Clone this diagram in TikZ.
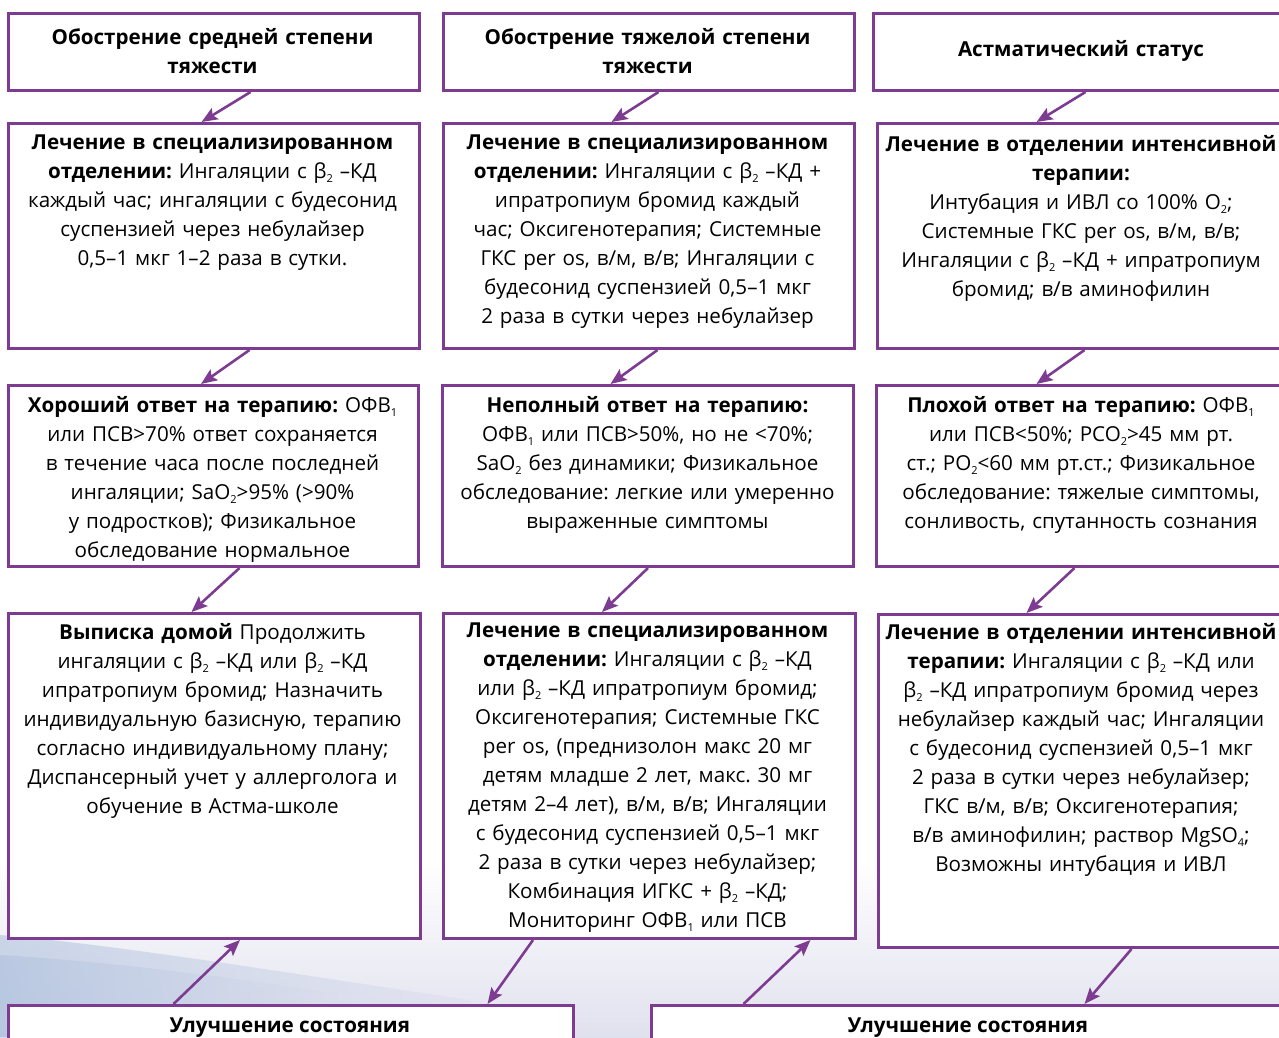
\documentclass[tikz,border=0pt]{standalone}
\usepackage{fontspec}
\setmainfont{Open Sans}
\frenchspacing
\usetikzlibrary{arrows.meta,calc}
\definecolor{pur}{RGB}{125,60,145}
\definecolor{lav}{RGB}{224,225,238}
\definecolor{swb}{RGB}{176,194,222}
\newcommand{\sbs}[1]{\raisebox{-4pt}{\fontsize{11}{11}\selectfont #1}}
\newcommand{\bt}{β\sbs{2}}
\begin{document}
\begin{tikzpicture}[x=1pt,y=-1pt,
  box/.style={draw=pur,line width=3pt,fill=white,inner sep=0pt,anchor=north west},
  txt/.style={anchor=north,align=center,text width=440pt,inner sep=0pt,font=\fontsize{20.6}{29}\selectfont},
  ttl/.style={anchor=center,align=center,text width=440pt,inner sep=0pt,font=\fontsize{20.6}{29}\selectfont\bfseries},
  arr/.style={draw=pur,line width=2.6pt,-{Stealth[length=16pt,width=13pt,inset=3pt]}}]
\useasboundingbox (0,0) rectangle (1279,1037);
\clip (0,0) rectangle (1279,1037);
% background
\fill[white] (0,0) rectangle (1279,1037);
\shade[top color=white,bottom color=lav] (0,860) rectangle (1279,1037);
\shade[left color=swb,right color=lav,opacity=0.6] (0,935) .. controls (120,945) and (300,975) .. (470,1000) -- (470,1037) -- (0,1037) -- cycle;
\shade[left color=swb,right color=lav,opacity=0.6] (0,955) .. controls (120,962) and (250,980) .. (380,1000) -- (380,1037) -- (0,1037) -- cycle;
% boxes
\node[box,minimum width=411,minimum height=77] (a1) at (7,12) {};
\node[box,minimum width=411,minimum height=77] (a2) at (442,12) {};
\node[box,minimum width=420,minimum height=77] (a3) at (872,12) {};
\node[box,minimum width=411,minimum height=225] (b1) at (7,122) {};
\node[box,minimum width=411,minimum height=225] (b2) at (442,122) {};
\node[box,minimum width=416,minimum height=225] (b3) at (876,122) {};
\node[box,minimum width=410,minimum height=181] (c1) at (7,384) {};
\node[box,minimum width=411,minimum height=181] (c2) at (441,384) {};
\node[box,minimum width=416,minimum height=181] (c3) at (875,384) {};
\node[box,minimum width=412,minimum height=325] (d1) at (7,612) {};
\node[box,minimum width=412,minimum height=325] (d2) at (442,612) {};
\node[box,minimum width=415,minimum height=333] (d3) at (877,613) {};
\node[box,minimum width=565,minimum height=60] (e1) at (7,1004) {};
\node[box,minimum width=636,minimum height=60] (e2) at (650,1004) {};
% texts
\node[ttl] (ta1) at (212.5,51) {Обострение средней степени\\тяжести};
\node[ttl] (ta2) at (647.5,51) {Обострение тяжелой степени\\тяжести};
\node[ttl] (ta3) at (1081,51) {Астматический статус};
\node[txt] (tb1) at (212.5,135) {\textbf{Лечение в специализированном}\\\textbf{отделении:} Ингаляции с \bt{} –КД\\каждый час; ингаляции с будесонид\\суспензией через небулайзер\\0,5–1 мкг 1–2 раза в сутки.};
\node[txt] (tb2) at (647.5,135) {\textbf{Лечение в специализированном}\\\textbf{отделении:} Ингаляции с \bt{} –КД +\\ипратропиум бромид каждый\\час; Оксигенотерапия; Системные\\ГКС per os, в/м, в/в; Ингаляции с\\будесонид суспензией 0,5–1 мкг\\2 раза в сутки через небулайзер};
\node[txt] (tb3) at (1081,135) {\textbf{Лечение в отделении интенсивной}\\\textbf{терапии:}\\Интубация и ИВЛ со 100\% O\sbs{2};\\Системные ГКС per os, в/м, в/в;\\Ингаляции с \bt{} –КД + ипратропиум\\бромид; в/в аминофилин};
\node[txt] (tc1) at (212.5,396) {\textbf{Хороший ответ на терапию:} ОФВ\sbs{1}\\или ПСВ>70\% ответ сохраняется\\в течение часа после последней\\ингаляции; SaO\sbs{2}>95\% (>90\%\\у подростков); Физикальное\\обследование нормальное};
\node[txt] (tc2) at (647.5,396) {\textbf{Неполный ответ на терапию:}\\ОФВ\sbs{1} или ПСВ>50\%, но не <70\%;\\SaO\sbs{2} без динамики; Физикальное\\обследование: легкие или умеренно\\выраженные симптомы};
\node[txt] (tc3) at (1081,396) {\textbf{Плохой ответ на терапию:} ОФВ\sbs{1}\\или ПСВ<50\%; PCO\sbs{2}>45 мм рт.\\ст.; PO\sbs{2}<60 мм рт.ст.; Физикальное\\обследование: тяжелые симптомы,\\сонливость, спутанность сознания};
\node[txt] (td1) at (212.5,623) {\textbf{Выписка домой} Продолжить\\ингаляции с \bt{} –КД или \bt{} –КД\\ипратропиум бромид; Назначить\\индивидуальную базисную, терапию\\согласно индивидуальному плану;\\Диспансерный учет у аллерголога и\\обучение в Астма-школе};
\node[txt] (td2) at (647.5,623) {\textbf{Лечение в специализированном}\\\textbf{отделении:} Ингаляции с \bt{} –КД\\или \bt{} –КД ипратропиум бромид;\\Оксигенотерапия; Системные ГКС\\per os, (преднизолон макс 20 мг\\детям младше 2 лет, макс. 30 мг\\детям 2–4 лет), в/м, в/в; Ингаляции\\с будесонид суспензией 0,5–1 мкг\\2 раза в сутки через небулайзер;\\Комбинация ИГКС + \bt{} –КД;\\Мониторинг ОФВ\sbs{1} или ПСВ};
\node[txt] (td3) at (1081,623) {\textbf{Лечение в отделении интенсивной}\\\textbf{терапии:} Ингаляции с \bt{} –КД или\\\bt{} –КД ипратропиум бромид через\\небулайзер каждый час; Ингаляции\\с будесонид суспензией 0,5–1 мкг\\2 раза в сутки через небулайзер;\\ГКС в/м, в/в; Оксигенотерапия;\\в/в аминофилин; раствор MgSO\sbs{4};\\Возможны интубация и ИВЛ};
\node[anchor=base,inner sep=0pt,font=\fontsize{20.6}{29}\selectfont\bfseries] (te1) at (290,1032) {Улучшение состояния};
\node[anchor=base,inner sep=0pt,font=\fontsize{20.6}{29}\selectfont\bfseries] (te2) at (968,1032) {Улучшение состояния};
% arrows
\draw[arr] ([xshift=36.5pt]a1.south) -- ([xshift=-12.5pt]b1.north);
\draw[arr] ([xshift=9.5pt]a2.south) -- ([xshift=-37.5pt]b2.north);
\draw[arr] ([xshift=2pt]a3.south) -- ([xshift=-49pt]b3.north);
\draw[arr] ([xshift=35.5pt]b1.south) -- ([xshift=-12.5pt]c1.north);
\draw[arr] ([xshift=8.5pt]b2.south) -- ([xshift=-37.5pt]c2.north);
\draw[arr] ([xshift=-1pt]b3.south) -- ([xshift=-48pt]c3.north);
\draw[arr] ([xshift=26pt]c1.south) -- ([xshift=-23pt]d1.north);
\draw[arr] ([xshift=0pt]c2.south) -- ([xshift=-47.5pt]d2.north);
\draw[arr] ([xshift=-10pt]c3.south) -- ([xshift=-59.5pt]d3.north);
\draw[arr] ([xshift=-117.5pt]e1.north) -- ([xshift=25.5pt]d1.south);
\draw[arr] ([xshift=-116.5pt]d2.south) -- ([xshift=196.5pt]e1.north);
\draw[arr] ([xshift=-226pt]e2.north) -- ([xshift=161pt]d2.south);
\draw[arr] ([xshift=45.5pt]d3.south) -- ([xshift=115pt]e2.north);
\end{tikzpicture}
\end{document}
